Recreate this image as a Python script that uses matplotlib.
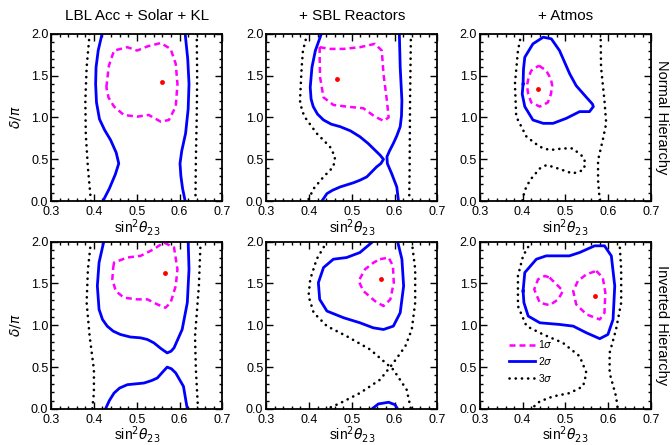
import numpy as np
import matplotlib.pyplot as plt
from matplotlib.ticker import MultipleLocator

plt.rcParams['font.family'] = ['Liberation Sans', 'DejaVu Sans']

titles = ['LBL Acc + Solar + KL', '+ SBL Reactors', '+ Atmos']
row_labels = ['Normal Hierarchy', 'Inverted Hierarchy']
legend_labels = [r'1$\sigma$', r'2$\sigma$', r'3$\sigma$']

# contours: (sin^2 theta23, delta/pi)
# --- normal hierarchy, LBL acc + solar + KL
nh_lbl_1s = [[(0.429, 1.36), (0.435, 1.62), (0.447, 1.80), (0.478, 1.84), (0.501, 1.80),
              (0.525, 1.85), (0.556, 1.89), (0.579, 1.82), (0.591, 1.64), (0.595, 1.40),
              (0.591, 1.13), (0.575, 0.97), (0.556, 0.95), (0.528, 1.03), (0.501, 1.01),
              (0.470, 1.03), (0.447, 1.13), (0.434, 1.24), (0.429, 1.36)]]
nh_lbl_2s = [[(0.419, 2.0), (0.410, 1.80), (0.405, 1.60), (0.404, 1.40), (0.406, 1.18),
              (0.413, 0.98), (0.425, 0.85), (0.439, 0.73), (0.452, 0.58), (0.458, 0.45),
              (0.450, 0.32), (0.436, 0.15), (0.421, 0.0)],
             [(0.613, 2.0), (0.619, 1.70), (0.622, 1.40), (0.620, 1.10), (0.614, 0.81),
              (0.605, 0.60), (0.601, 0.45), (0.603, 0.30), (0.607, 0.15), (0.613, 0.0)]]
nh_lbl_3s = [[(0.390, 2.0), (0.383, 1.6), (0.380, 1.2), (0.381, 0.8), (0.386, 0.4), (0.393, 0.0)],
             [(0.640, 2.0), (0.641, 1.5), (0.640, 1.0), (0.638, 0.5), (0.637, 0.0)]]
nh_lbl_best = (0.558, 1.42)

# --- normal hierarchy, + SBL reactors
nh_sbl_1s = [[(0.425, 1.84), (0.449, 1.82), (0.481, 1.82), (0.519, 1.84), (0.554, 1.88),
              (0.570, 1.80), (0.574, 1.52), (0.582, 1.20), (0.586, 1.00), (0.574, 0.96),
              (0.554, 1.01), (0.527, 1.11), (0.488, 1.13), (0.457, 1.15), (0.434, 1.24),
              (0.426, 1.48), (0.425, 1.72), (0.425, 1.84)]]
nh_sbl_2s = [[(0.429, 2.0), (0.415, 1.80), (0.407, 1.60), (0.403, 1.36), (0.405, 1.22),
              (0.410, 1.13), (0.420, 1.04), (0.434, 0.97), (0.452, 0.92), (0.473, 0.89),
              (0.497, 0.84), (0.519, 0.77), (0.538, 0.69), (0.554, 0.61), (0.566, 0.55),
              (0.574, 0.50), (0.568, 0.45), (0.558, 0.41), (0.535, 0.29), (0.519, 0.25),
              (0.504, 0.22), (0.473, 0.17), (0.455, 0.13), (0.442, 0.09), (0.430, 0.0)],
             [(0.611, 2.0), (0.613, 1.60), (0.617, 1.20), (0.616, 1.02), (0.613, 0.89),
              (0.605, 0.78), (0.597, 0.69), (0.588, 0.60), (0.582, 0.53), (0.583, 0.45),
              (0.593, 0.33), (0.605, 0.17), (0.609, 0.0)]]
nh_sbl_3s = [[(0.396, 2.0), (0.386, 1.80), (0.383, 1.60), (0.379, 1.20), (0.384, 1.08),
              (0.391, 1.0), (0.418, 0.81), (0.449, 0.65), (0.461, 0.53), (0.457, 0.41),
              (0.434, 0.29), (0.411, 0.15), (0.397, 0.0)],
             [(0.638, 2.0), (0.636, 1.2), (0.635, 0.4), (0.634, 0.0)]]
nh_sbl_best = (0.465, 1.46)

# --- normal hierarchy, + atmospheric
nh_atm_1s = [[(0.438, 1.62), (0.455, 1.56), (0.466, 1.46), (0.469, 1.38), (0.466, 1.28),
              (0.459, 1.18), (0.440, 1.13), (0.420, 1.18), (0.413, 1.28), (0.410, 1.38),
              (0.414, 1.48), (0.420, 1.56), (0.438, 1.62)]]
nh_atm_2s = [[(0.401, 1.40), (0.402, 1.58), (0.405, 1.72), (0.424, 1.88), (0.448, 1.96),
              (0.467, 1.94), (0.486, 1.80), (0.510, 1.52), (0.525, 1.38), (0.549, 1.24),
              (0.563, 1.16), (0.565, 1.13), (0.556, 1.07), (0.533, 1.07), (0.502, 0.99),
              (0.471, 0.93), (0.448, 0.93), (0.424, 0.97), (0.405, 1.13), (0.399, 1.28),
              (0.401, 1.40)]]
nh_atm_3s = [[(0.397, 2.0), (0.389, 1.80), (0.382, 1.40), (0.385, 1.01), (0.409, 0.77),
              (0.440, 0.65), (0.463, 0.61), (0.494, 0.63), (0.517, 0.63), (0.541, 0.53),
              (0.547, 0.45), (0.541, 0.37), (0.517, 0.33), (0.494, 0.37), (0.471, 0.41),
              (0.455, 0.43), (0.440, 0.39), (0.417, 0.25), (0.405, 0.13), (0.399, 0.0)],
             [(0.582, 2.0), (0.583, 1.60), (0.591, 1.20), (0.595, 0.93), (0.587, 0.73),
              (0.576, 0.49), (0.576, 0.25), (0.580, 0.0)]]
nh_atm_best = (0.437, 1.34)

# --- inverted hierarchy, LBL acc + solar + KL
ih_lbl_1s = [[(0.445, 1.69), (0.447, 1.75), (0.478, 1.81), (0.509, 1.83), (0.540, 1.91),
              (0.563, 1.99), (0.587, 1.93), (0.595, 1.67), (0.591, 1.47), (0.579, 1.27),
              (0.567, 1.21), (0.548, 1.25), (0.525, 1.31), (0.501, 1.31), (0.470, 1.33),
              (0.451, 1.41), (0.443, 1.55), (0.445, 1.69)]]
ih_lbl_2s = [[(0.423, 2.0), (0.412, 1.75), (0.408, 1.47), (0.412, 1.19), (0.420, 1.07),
              (0.431, 0.99), (0.445, 0.93), (0.462, 0.89), (0.485, 0.86), (0.509, 0.85),
              (0.525, 0.83), (0.540, 0.79), (0.557, 0.72), (0.571, 0.67), (0.580, 0.69),
              (0.587, 0.73), (0.606, 0.95), (0.618, 1.27), (0.622, 1.67), (0.620, 2.0)],
             [(0.427, 0.0), (0.436, 0.10), (0.447, 0.19), (0.460, 0.25), (0.478, 0.29),
              (0.517, 0.31), (0.535, 0.34), (0.548, 0.37), (0.562, 0.45), (0.571, 0.50),
              (0.581, 0.48), (0.591, 0.43), (0.609, 0.27), (0.618, 0.0)]]
ih_lbl_3s = [[(0.393, 2.0), (0.386, 1.67), (0.383, 1.27), (0.390, 0.87), (0.400, 0.47),
              (0.400, 0.19), (0.396, 0.0)],
             [(0.649, 2.0), (0.645, 1.47), (0.636, 0.87), (0.638, 0.47), (0.643, 0.0)]]
ih_lbl_best = (0.565, 1.63)

# --- inverted hierarchy, + SBL reactors
ih_sbl_1s = [[(0.566, 1.79), (0.586, 1.81), (0.596, 1.71), (0.598, 1.51), (0.590, 1.31),
              (0.574, 1.23), (0.554, 1.29), (0.527, 1.41), (0.516, 1.53), (0.531, 1.67),
              (0.551, 1.75), (0.566, 1.79)]]
ih_sbl_2s = [[(0.549, 2.0), (0.519, 1.87), (0.488, 1.81), (0.457, 1.79), (0.434, 1.69),
              (0.422, 1.51), (0.425, 1.31), (0.442, 1.17), (0.481, 1.09), (0.519, 1.03),
              (0.550, 0.97), (0.574, 0.95), (0.597, 0.99), (0.613, 1.15), (0.621, 1.47),
              (0.617, 1.79), (0.607, 2.0)],
             [(0.547, 0.0), (0.562, 0.06), (0.586, 0.08), (0.601, 0.05), (0.607, 0.0)]]
ih_sbl_3s = [[(0.442, 2.0), (0.418, 1.79), (0.403, 1.55), (0.399, 1.35), (0.411, 1.15),
              (0.442, 0.99), (0.488, 0.87), (0.543, 0.71), (0.597, 0.47), (0.628, 0.23),
              (0.638, 0.0)],
             [(0.640, 2.0), (0.648, 1.67), (0.648, 1.27), (0.640, 0.95), (0.625, 0.75),
              (0.597, 0.55), (0.566, 0.35), (0.519, 0.19), (0.473, 0.07), (0.442, 0.0)]]
ih_sbl_best = (0.568, 1.55)

# --- inverted hierarchy, + atmospheric
ih_atm_1s = [[(0.463, 1.57), (0.483, 1.47), (0.494, 1.41), (0.483, 1.31), (0.463, 1.24),
              (0.440, 1.27), (0.427, 1.43), (0.436, 1.55), (0.452, 1.59), (0.463, 1.57)],
             [(0.572, 1.65), (0.587, 1.57), (0.593, 1.39), (0.591, 1.15), (0.580, 1.07),
              (0.549, 1.13), (0.525, 1.25), (0.518, 1.41), (0.529, 1.53), (0.549, 1.61),
              (0.572, 1.65)]]
ih_atm_2s = [[(0.401, 1.41), (0.405, 1.63), (0.432, 1.79), (0.455, 1.83), (0.486, 1.83),
              (0.509, 1.83), (0.533, 1.87), (0.568, 1.95), (0.591, 1.95), (0.607, 1.83),
              (0.615, 1.47), (0.611, 1.07), (0.599, 0.89), (0.580, 0.84), (0.549, 0.91),
              (0.518, 0.99), (0.486, 1.01), (0.440, 1.03), (0.413, 1.11), (0.403, 1.27),
              (0.401, 1.41)]]
ih_atm_3s = [[(0.420, 2.0), (0.401, 1.83), (0.389, 1.59), (0.389, 1.23), (0.409, 0.99),
              (0.448, 0.89), (0.494, 0.79), (0.533, 0.63), (0.549, 0.43), (0.541, 0.27),
              (0.510, 0.19), (0.471, 0.15), (0.440, 0.09), (0.420, 0.0)],
             [(0.626, 2.0), (0.630, 1.67), (0.630, 1.27), (0.618, 0.95), (0.603, 0.67),
              (0.603, 0.43), (0.618, 0.15), (0.622, 0.0)]]
ih_atm_best = (0.568, 1.35)

panels = [
    [(nh_lbl_1s, nh_lbl_2s, nh_lbl_3s, nh_lbl_best),
     (nh_sbl_1s, nh_sbl_2s, nh_sbl_3s, nh_sbl_best),
     (nh_atm_1s, nh_atm_2s, nh_atm_3s, nh_atm_best)],
    [(ih_lbl_1s, ih_lbl_2s, ih_lbl_3s, ih_lbl_best),
     (ih_sbl_1s, ih_sbl_2s, ih_sbl_3s, ih_sbl_best),
     (ih_atm_1s, ih_atm_2s, ih_atm_3s, ih_atm_best)],
]

fig = plt.figure(figsize=(6.72, 4.45), dpi=100)
lefts = [0.076, 0.396, 0.714]
bottoms = [0.548, 0.081]
w, h = 0.255, 0.376

styles = [dict(color='#ff00ff', ls=(0, (2.4, 1.6)), lw=1.8),
          dict(color='#0000ff', ls='-', lw=2.0, solid_joinstyle='round'),
          dict(color='black', ls=(0, (0.05, 2.3)), lw=1.9, dash_capstyle='round')]

for r in range(2):
    for c in range(3):
        ax = fig.add_axes([lefts[c], bottoms[r], w, h])
        s1, s2, s3, best = panels[r][c]
        for curves, st in zip((s3, s2, s1), (styles[2], styles[1], styles[0])):
            for curve in curves:
                pts = np.array(curve)
                ax.plot(pts[:, 0], pts[:, 1], **st)
        ax.plot(best[0], best[1], 'o', color='red', ms=3.5, mec='none')

        ax.set_xlim(0.3, 0.7)
        ax.set_ylim(0, 2)
        ax.xaxis.set_major_locator(MultipleLocator(0.1))
        ax.xaxis.set_minor_locator(MultipleLocator(0.02))
        ax.yaxis.set_major_locator(MultipleLocator(0.5))
        ax.yaxis.set_minor_locator(MultipleLocator(0.1))
        ax.set_xticklabels([f'{v:.1f}' for v in ax.get_xticks()])
        ax.set_yticklabels([f'{v:.1f}' for v in ax.get_yticks()])
        ax.tick_params(which='both', direction='in', top=True, right=True,
                       labelsize=9, width=1)
        ax.tick_params(axis='x', pad=3.5)
        ax.tick_params(axis='y', pad=2)
        ax.tick_params(which='major', length=5)
        ax.tick_params(which='minor', length=2.5)
        for sp in ax.spines.values():
            sp.set_linewidth(1.3)
        ax.set_xlabel(r'sin$^2\theta_{23}$', fontsize=10, labelpad=-1)
        if c == 0:
            ax.set_ylabel(r'$\delta/\pi$', fontsize=10, labelpad=6)
        if r == 0:
            ax.set_title(titles[c], fontsize=11, pad=10)
        if c == 2:
            ax.text(1.066, 0.5, row_labels[r], transform=ax.transAxes, rotation=-90,
                    ha='center', va='center', fontsize=10.5)
        if r == 1 and c == 2:
            handles = [plt.Line2D([], [], **styles[i]) for i in range(3)]
            ax.legend(handles, legend_labels, loc='lower left',
                      bbox_to_anchor=(0.14, 0.12), frameon=False, fontsize=7.5,
                      handlelength=2.5, handletextpad=0.3, labelspacing=0.45,
                      borderpad=0)

fig.savefig('out.png', dpi=100)
